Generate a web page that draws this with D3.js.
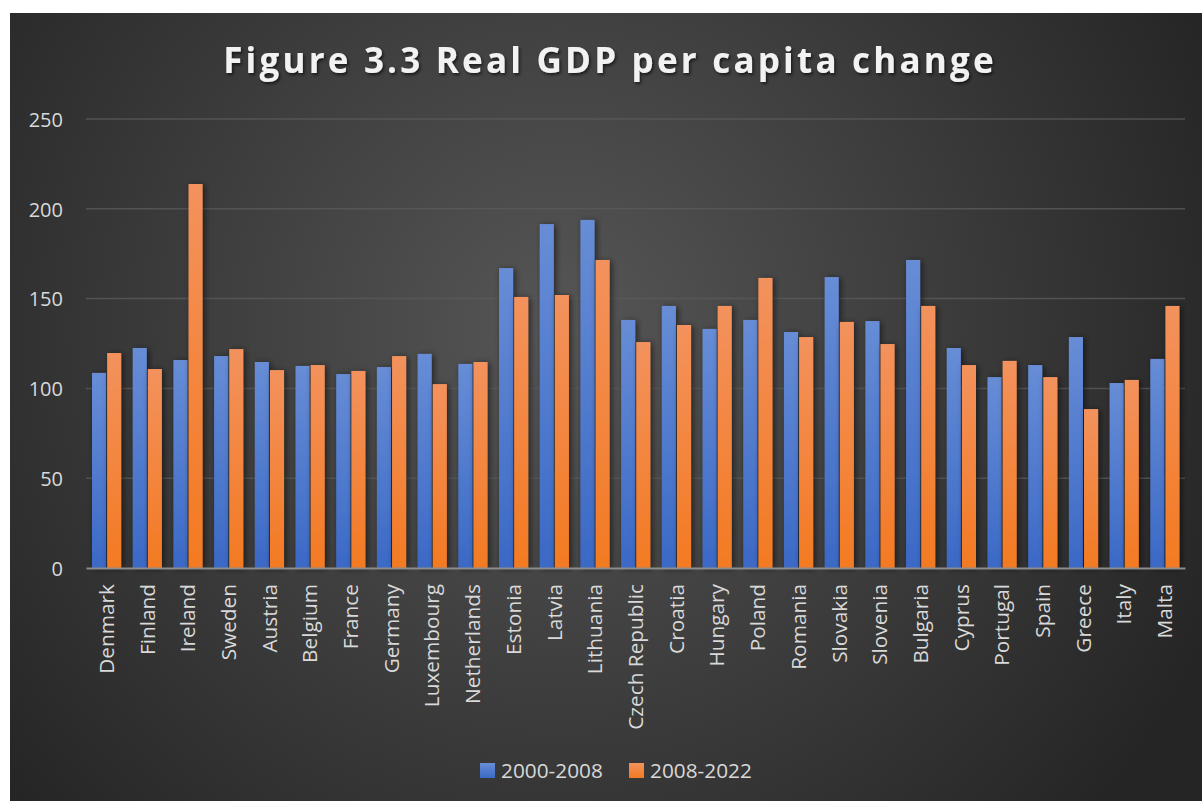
<!DOCTYPE html>
<html>
<head>
<meta charset="utf-8">
<script src="https://cdn.jsdelivr.net/npm/d3@7"></script>
<style>
  html, body { margin: 0; padding: 0; background: #fff; }
  svg { display: block; }
  text { font-family: "Open Sans", "DejaVu Sans", sans-serif; }
</style>
</head>
<body>
<svg id="chart" width="1202" height="801"></svg>
<script>
// Real GDP per capita index by country, two periods
const countries = ["Denmark", "Finland", "Ireland", "Sweden", "Austria", "Belgium", "France",
  "Germany", "Luxembourg", "Netherlands", "Estonia", "Latvia", "Lithuania", "Czech Republic",
  "Croatia", "Hungary", "Poland", "Romania", "Slovakia", "Slovenia", "Bulgaria", "Cyprus",
  "Portugal", "Spain", "Greece", "Italy", "Malta"];
const seriesNames = ["2000-2008", "2008-2022"];
const values2000_2008 = [108.6, 122.5, 115.8, 118, 114.7, 112.5, 108, 111.9, 119.2, 113.6,
  167, 191.5, 193.8, 138.1, 145.9, 133.1, 138.1, 131.4, 162, 137.5, 171.5, 122.5,
  106.3, 113, 128.6, 103, 116.4];
const values2008_2022 = [119.7, 110.8, 213.8, 121.9, 110.2, 113, 109.7, 118, 102.4, 114.7,
  150.9, 152, 171.5, 125.8, 135.3, 145.9, 161.5, 128.6, 137, 124.7, 145.9, 113,
  115.3, 106.3, 88.5, 104.7, 145.9];
const yTicks = [0, 50, 100, 150, 200, 250];
const titleText = "Figure 3.3 Real GDP per capita change";

const rows = countries.map((c, i) => ({ country: c, vals: [values2000_2008[i], values2008_2022[i]] }));

const svg = d3.select("#chart");
const defs = svg.append("defs");

// chart-area background: radial gradient, light in the middle, dark at the rim
const bg = defs.append("radialGradient").attr("id", "bgGrad")
  .attr("gradientUnits", "userSpaceOnUse")
  .attr("cx", 560).attr("cy", 330).attr("r", 720);
bg.append("stop").attr("offset", "0%").attr("stop-color", "#565656");
bg.append("stop").attr("offset", "100%").attr("stop-color", "#252525");

// bar fills: lighter at the top
const barColors = [["#678dd6", "#3b69c6"], ["#f3925d", "#f37a22"]];
barColors.forEach((c, i) => {
  const g = defs.append("linearGradient").attr("id", "barGrad" + i)
    .attr("x1", 0).attr("y1", 0).attr("x2", 0).attr("y2", 1);
  g.append("stop").attr("offset", "0%").attr("stop-color", c[0]);
  g.append("stop").attr("offset", "100%").attr("stop-color", c[1]);
});

const shadow = defs.append("filter").attr("id", "barShadow")
  .attr("x", "-50%").attr("y", "-10%").attr("width", "200%").attr("height", "120%");
shadow.append("feDropShadow").attr("dx", 2).attr("dy", 1).attr("stdDeviation", 3)
  .attr("flood-color", "#000").attr("flood-opacity", 0.55);

const titleShadow = defs.append("filter").attr("id", "titleShadow")
  .attr("x", "-10%").attr("y", "-30%").attr("width", "120%").attr("height", "160%");
titleShadow.append("feDropShadow").attr("dx", 1.5).attr("dy", 2).attr("stdDeviation", 1.5)
  .attr("flood-color", "#000").attr("flood-opacity", 0.6);

svg.append("rect").attr("x", 10).attr("y", 13).attr("width", 1192).attr("height", 788)
  .attr("fill", "url(#bgGrad)");

// scales
const x0 = d3.scaleBand().domain(countries).range([86, 1185]).padding(0);
const x1 = d3.scaleBand().domain([0, 1]).range([6, x0.bandwidth() - 5.5]).paddingInner(0.07);
const y = d3.scaleLinear().domain([0, 250]).range([568, 119]);

// gridlines
svg.append("g").selectAll("line").data(yTicks.filter(t => t > 0)).join("line")
  .attr("x1", 86).attr("x2", 1185)
  .attr("y1", d => y(d)).attr("y2", d => y(d))
  .attr("stroke", "#5a5a5a").attr("stroke-width", 1.5).attr("stroke-opacity", 0.8);

// y axis labels
const yAxis = d3.axisLeft(y).tickValues(yTicks).tickSize(0).tickPadding(0);
const yG = svg.append("g").attr("transform", "translate(63,0)").call(yAxis);
yG.select(".domain").remove();
yG.selectAll("text").attr("fill", "#d9d9d9").attr("font-size", 20)
  .attr("font-family", "'Open Sans', sans-serif").attr("dy", "0.36em");

// bars
const groups = svg.append("g").selectAll("g").data(rows).join("g")
  .attr("transform", d => `translate(${x0(d.country)},0)`);
groups.selectAll("rect").data(d => d.vals.map((v, i) => ({ v, i }))).join("rect")
  .attr("x", d => x1(d.i))
  .attr("width", x1.bandwidth())
  .attr("y", d => y(d.v))
  .attr("height", d => y(0) - y(d.v))
  .attr("fill", d => `url(#barGrad${d.i})`)
  .attr("filter", "url(#barShadow)");

// category axis
const xAxis = d3.axisBottom(x0).tickSize(0).tickPadding(0);
const xG = svg.append("g").attr("transform", `translate(0,${y(0)})`).call(xAxis);
xG.select(".domain").attr("stroke", "#8c8c8c").attr("stroke-width", 2);
xG.selectAll("text")
  .attr("fill", "#d9d9d9").attr("font-size", 20.8)
  .attr("font-family", "'Open Sans', sans-serif")
  .attr("text-anchor", "end")
  .attr("transform", "rotate(-90)")
  .attr("x", -16).attr("y", 0).attr("dy", "0.36em");

// title
svg.append("text")
  .attr("x", 610).attr("y", 73)
  .attr("text-anchor", "middle")
  .attr("fill", "#f2f2f2")
  .attr("font-size", 35).attr("font-weight", 700)
  .attr("letter-spacing", "3.2px")
  .attr("filter", "url(#titleShadow)")
  .text(titleText);

// legend
const legendX = [480, 629];
const legend = svg.append("g").selectAll("g").data(seriesNames).join("g")
  .attr("transform", (d, i) => `translate(${legendX[i]},763)`);
legend.append("rect").attr("width", 15).attr("height", 15)
  .attr("fill", (d, i) => `url(#barGrad${i})`);
legend.append("text").attr("x", 21).attr("y", 7.5).attr("dy", "0.36em")
  .attr("fill", "#d9d9d9").attr("font-size", 20.8)
  .text(d => d);
</script>
</body>
</html>
